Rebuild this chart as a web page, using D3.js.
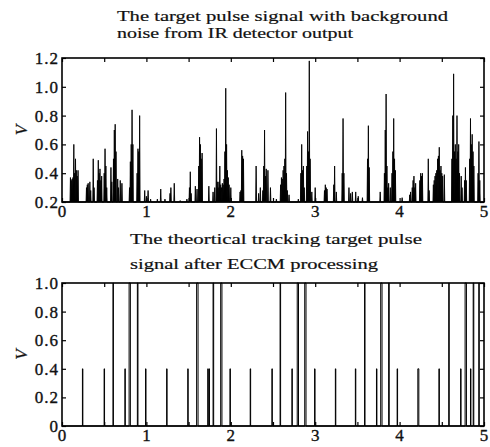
<!DOCTYPE html>
<html>
<head>
<meta charset="utf-8" />
<style>
  body { margin: 0; background: #fff; }
  svg text { font-family: "Liberation Serif", "DejaVu Serif", serif; fill: #111; }
  .tick text { font-size: 17px; letter-spacing: 1px; stroke: #111; stroke-width: 0.35px; }
  .title { font-size: 15px; stroke: #111; stroke-width: 0.2px; }
  .ylab { font-size: 17px; font-style: italic; stroke: #111; stroke-width: 0.3px; }
  .frame { fill: none; stroke: #000; stroke-width: 1.6px; }
</style>
</head>
<body>
<svg width="490" height="447"></svg>
<script src="https://cdn.jsdelivr.net/npm/d3@7"></script>
<script>
  // ---- data ----
  var xLabels = [0, 1, 2, 3, 4, 5];
  var xMinor = [0.5, 1.5, 2.5, 3.5, 4.5];
  var topYTicks = [0.2, 0.4, 0.6, 0.8, 1.0, 1.2];
  var botYTicks = [0, 0.2, 0.4, 0.6, 0.8, 1.0];

  // IR detector output: [time, peak voltage]
  var noiseSpikes = [
    [0.10,0.37],[0.11,0.35],[0.12,0.36],[0.13,0.37],[0.14,0.60],[0.15,0.40],[0.16,0.50],[0.17,0.42],[0.18,0.38],[0.19,0.42],
    [0.29,0.30],[0.30,0.32],[0.31,0.33],[0.33,0.34],[0.34,0.28],[0.37,0.50],[0.38,0.30],
    [0.42,0.35],[0.43,0.49],[0.44,0.40],[0.45,0.43],[0.46,0.35],[0.47,0.38],
    [0.50,0.40],[0.51,0.57],[0.52,0.45],[0.53,0.30],[0.58,0.44],[0.59,0.34],
    [0.61,0.50],[0.62,0.70],[0.63,0.74],[0.64,0.55],[0.66,0.36],[0.67,0.30],[0.69,0.35],[0.71,0.33],
    [0.80,0.30],[0.81,0.48],[0.82,0.60],[0.83,0.84],[0.84,0.60],[0.89,0.40],[0.90,0.57],[0.91,0.55],[0.92,0.80],
    [0.98,0.28],[1.00,0.24],[1.02,0.28],[1.05,0.22],[1.13,0.22],[1.17,0.29],
    [1.22,0.22],[1.28,0.26],[1.29,0.30],[1.33,0.33],[1.40,0.21],[1.48,0.22],
    [1.51,0.30],[1.52,0.41],[1.53,0.26],[1.58,0.31],[1.60,0.29],[1.62,0.45],[1.63,0.65],[1.64,0.60],[1.65,0.50],[1.66,0.54],
    [1.74,0.31],[1.79,0.27],[1.81,0.30],[1.83,0.71],[1.84,0.34],[1.85,0.30],[1.86,0.34],[1.87,0.45],[1.88,0.32],[1.89,0.30],
    [1.90,0.33],[1.91,0.32],[1.92,0.36],[1.93,0.55],[1.94,0.99],[1.95,0.60],[1.96,0.42],[1.97,0.37],[1.98,0.32],[2.00,0.30],
    [2.11,0.27],[2.12,0.28],[2.13,0.56],[2.14,0.52],[2.15,0.50],[2.30,0.45],[2.33,0.26],[2.35,0.30],[2.38,0.28],
    [2.39,0.45],[2.40,0.70],[2.41,0.38],[2.42,0.43],[2.44,0.42],[2.47,0.30],[2.54,0.22],
    [2.59,0.32],[2.60,0.37],[2.61,0.36],[2.62,0.42],[2.63,0.45],[2.64,0.50],[2.65,0.96],[2.66,0.40],[2.67,0.28],[2.69,0.25],
    [2.80,0.22],[2.83,0.40],[2.84,0.60],[2.85,0.42],[2.86,0.45],[2.87,0.30],[2.90,0.45],[2.91,0.69],[2.92,0.55],[2.93,1.18],
    [2.94,0.50],[2.96,0.27],[3.00,0.30],[3.11,0.28],[3.12,0.32],[3.13,0.30],[3.14,0.29],
    [3.22,0.32],[3.23,0.45],[3.25,0.27],[3.32,0.40],[3.33,0.78],[3.34,0.40],[3.40,0.30],[3.42,0.26],[3.44,0.27],
    [3.48,0.27],[3.51,0.24],[3.56,0.23],[3.62,0.50],[3.63,0.73],[3.64,0.44],
    [3.77,0.27],[3.82,0.40],[3.83,0.70],[3.84,0.95],[3.85,0.45],[3.86,0.30],[3.87,0.33],[3.89,0.30],
    [3.91,0.40],[3.92,0.55],[3.93,0.78],[3.94,0.50],[3.95,0.42],[4.03,0.23],
    [4.12,0.25],[4.13,0.27],[4.15,0.30],[4.16,0.35],[4.17,0.38],[4.18,0.30],[4.19,0.33],
    [4.24,0.35],[4.25,0.40],[4.26,0.38],[4.27,0.40],[4.34,0.50],[4.35,0.28],
    [4.40,0.32],[4.41,0.35],[4.42,0.38],[4.43,0.40],[4.44,0.42],[4.45,0.50],[4.46,0.52],[4.47,0.58],[4.48,0.42],[4.49,0.45],[4.50,0.40],[4.51,0.38],[4.53,0.39],
    [4.62,0.50],[4.63,0.80],[4.64,1.09],[4.65,0.55],[4.66,0.60],[4.67,0.50],[4.68,0.80],[4.69,0.55],[4.70,0.60],[4.71,0.40],
    [4.73,0.38],[4.74,0.30],[4.77,0.35],[4.78,0.44],[4.79,0.35],[4.83,0.50],[4.84,0.78],[4.85,0.60],[4.86,0.67],[4.87,0.55],[4.88,0.45],
    [4.93,0.40],[4.94,0.62],[4.95,0.35]
  ];

  // ECCM output: [start, end] of each pulse
  var lowPulses = [
    [0.242,0.247],[0.499,0.504],[0.745,0.750],[0.990,0.995],[1.240,1.245],[1.490,1.495],
    [1.727,1.732],[1.742,1.747],[1.990,1.995],[2.230,2.235],[2.487,2.492],[2.724,2.729],
    [2.993,2.998],[3.239,3.244],[3.476,3.481],[3.726,3.731],[3.971,3.976],[4.216,4.228],
    [4.466,4.471],[4.723,4.728],[4.840,4.845]
  ];
  var highPulses = [
    [0.604,0.609],[0.795,0.810],[0.893,0.900],[1.595,1.612],[1.790,1.797],[1.880,1.895],
    [2.584,2.590],[2.787,2.802],[2.876,2.891],[3.585,3.590],[3.776,3.792],[3.870,3.877],
    [4.582,4.588],[4.776,4.792],[4.872,4.879],[4.938,4.944]
  ];
  var lowLevel = 0.4, highLevel = 1.0;

  var topTitle = ["The target pulse signal with background", "noise from IR detector output"];
  var botTitle = ["The theortical tracking target pulse", "signal after ECCM processing"];

  // ---- layout ----
  var svg = d3.select("svg");

  var x = d3.scaleLinear().domain([0, 5]).range([62, 484]);
  var yTop = d3.scaleLinear().domain([0.2, 1.2]).range([202, 58]);
  var yBot = d3.scaleLinear().domain([0, 1.0]).range([426, 283]);

  // titles, stretched like the scanned type
  function title(lines, x0, ys, widths) {
    lines.forEach(function (t, i) {
      svg.append("text")
        .attr("class", "title")
        .attr("x", x0)
        .attr("y", ys[i])
        .attr("textLength", widths[i])
        .attr("lengthAdjust", "spacingAndGlyphs")
        .text(t);
    });
  }
  title(topTitle, 117, [21, 37.5], [331, 236]);
  title(botTitle, 130, [244, 268.5], [292, 248]);

  // frame + ticks on all four sides
  function panel(y, yTicks, fmt, labelPad) {
    var g = svg.append("g");
    var y0 = y.range()[0], y1 = y.range()[1];

    g.append("g")
      .attr("transform", "translate(0," + y0 + ")")
      .call(d3.axisBottom(x).tickValues(xLabels.concat(xMinor))
        .tickFormat(function (d) { return xLabels.indexOf(d) >= 0 ? d : ""; })
        .tickSizeInner(-4).tickSizeOuter(0).tickPadding(labelPad));
    g.append("g")
      .attr("transform", "translate(0," + y1 + ")")
      .call(d3.axisTop(x).tickValues(xLabels.concat(xMinor)).tickFormat("")
        .tickSizeInner(-4).tickSizeOuter(0));
    g.append("g")
      .attr("transform", "translate(" + x.range()[0] + ",0)")
      .call(d3.axisLeft(y).tickValues(yTicks).tickFormat(fmt)
        .tickSizeInner(-4).tickSizeOuter(0).tickPadding(3));
    g.append("g")
      .attr("transform", "translate(" + x.range()[1] + ",0)")
      .call(d3.axisRight(y).tickValues(yTicks).tickFormat("")
        .tickSizeInner(-4).tickSizeOuter(0));

    g.selectAll(".domain").remove();
    g.selectAll(".tick line").attr("stroke", "#000").attr("stroke-width", 1.2);
    g.selectAll(".tick text").attr("fill", "#111");
    g.selectAll("g[font-size]").attr("font-size", null).attr("font-family", null);

    g.append("rect")
      .attr("class", "frame")
      .attr("x", x.range()[0])
      .attr("y", y1)
      .attr("width", x.range()[1] - x.range()[0])
      .attr("height", y0 - y1);

    svg.append("text")
      .attr("class", "ylab")
      .attr("transform", "translate(27," + (y0 + y1) / 2 + ") rotate(-90)")
      .attr("text-anchor", "middle")
      .text("V");
  }

  // top: detector signal as spikes off the 0.2 floor
  var topPts = [[0, 0.2]];
  noiseSpikes.forEach(function (d) {
    topPts.push([d[0] - 0.005, 0.2], [d[0], d[1]], [d[0] + 0.005, 0.2]);
  });
  topPts.push([5, 0.2]);

  svg.append("path")
    .datum(topPts)
    .attr("fill", "#000")
    .attr("stroke", "#000")
    .attr("stroke-width", 0.9)
    .attr("d", d3.area()
      .x(function (d) { return x(d[0]); })
      .y0(yTop(0.2))
      .y1(function (d) { return yTop(d[1]); }));

  // bottom: rectangular pulses
  var pulses = lowPulses.map(function (p) { return [p[0], p[1], lowLevel]; })
    .concat(highPulses.map(function (p) { return [p[0], p[1], highLevel]; }))
    .sort(function (a, b) { return a[0] - b[0]; });
  var botPts = [[0, 0]];
  pulses.forEach(function (p) {
    botPts.push([p[0], 0], [p[0], p[2]], [p[1], p[2]], [p[1], 0]);
  });
  botPts.push([5, 0]);

  svg.append("path")
    .datum(botPts)
    .attr("fill", "none")
    .attr("stroke", "#000")
    .attr("stroke-width", 1)
    .attr("d", d3.line()
      .x(function (d) { return x(d[0]); })
      .y(function (d) { return yBot(d[1]); }));

  panel(yTop, topYTicks, d3.format(".1f"), 3);
  panel(yBot, botYTicks, function (d) { return d === 0 ? "0" : d3.format(".1f")(d); }, 3);
</script>
</body>
</html>
